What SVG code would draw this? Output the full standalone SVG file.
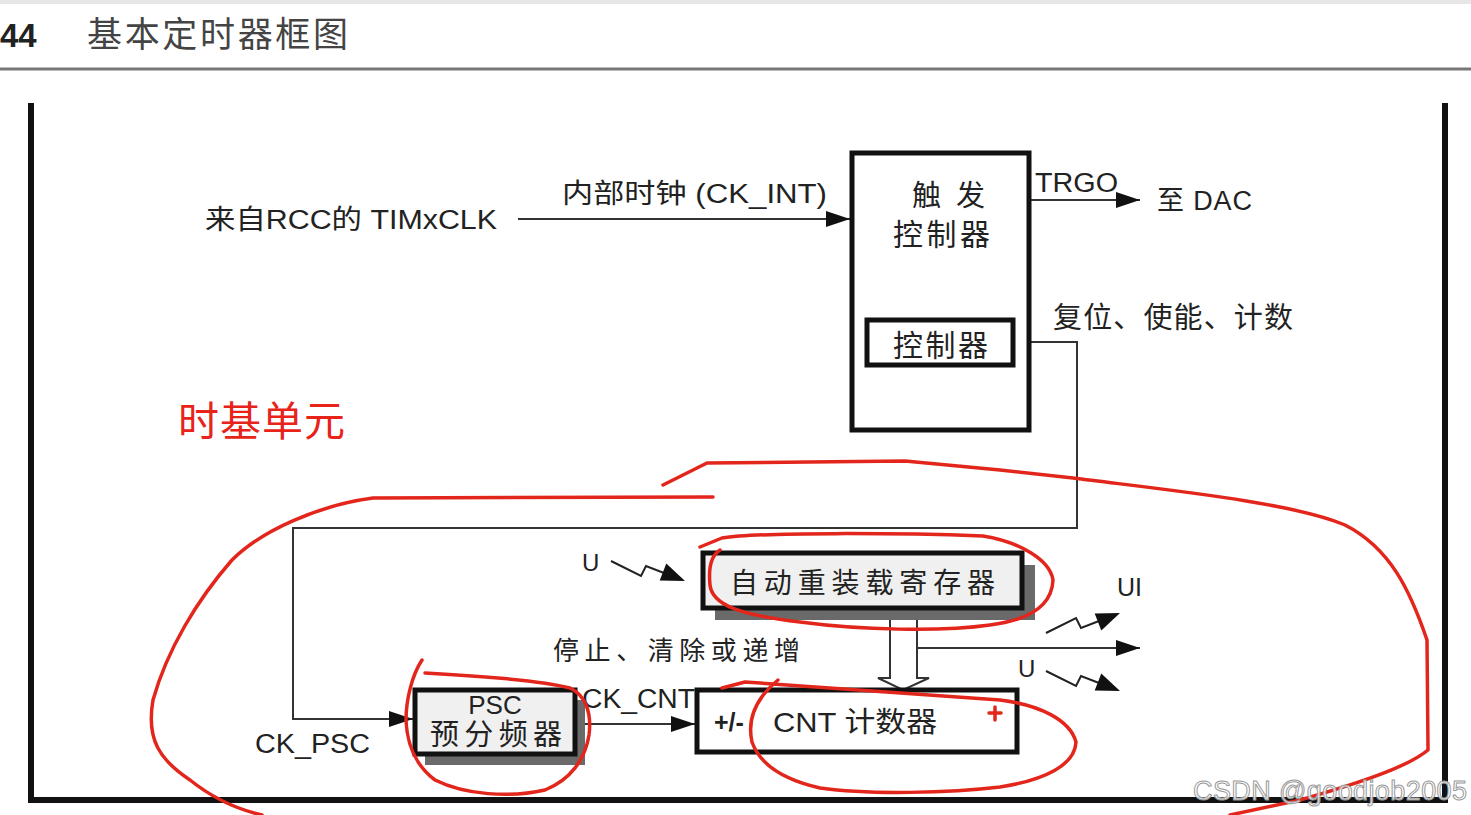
<svg xmlns="http://www.w3.org/2000/svg" xmlns:xlink="http://www.w3.org/1999/xlink" width="1471" height="815" viewBox="0 0 1471 815">
<style>
.t{font-family:"Liberation Sans","Noto Sans CJK SC",sans-serif;fill:#222}
.box{fill:#fff;stroke:#111;stroke-width:5}
.gbox{fill:#f0f0f0;stroke:#111;stroke-width:5}
.shadow{fill:#6a6a6a}
.wire{fill:none;stroke:#333;stroke-width:2}
.red{fill:none;stroke:#e3261c;stroke-width:3.5;stroke-linecap:round;stroke-linejoin:round}
</style>
<defs>
<marker id="ah" markerUnits="userSpaceOnUse" markerWidth="26" markerHeight="18" refX="24" refY="9" orient="auto">
<path d="M0,1 L24,9 L0,17 Z" fill="#111"/>
</marker>
<g id="bolt">
<polyline points="0,0 30,15 35,5 53,12" fill="none" stroke="#222" stroke-width="2"/>
<polygon points="74,20 48.7,19.4 55.3,2.6" fill="#111"/>
</g>
</defs>
<rect x="0" y="0" width="1471" height="815" fill="#fff"/>
<rect x="0" y="0" width="1471" height="4" fill="#e6e6e6"/>
<g id="header">
<text class="t" x="0" y="47" font-size="33" font-weight="bold">44</text>
<text class="t" x="87" y="47" font-size="35" style="fill:#444" textLength="261">基本定时器框图</text>
<line x1="0" y1="69" x2="1471" y2="69" stroke="#777" stroke-width="3"/>
</g>
<g id="frame" fill="none" stroke="#111" stroke-width="6">
<polyline points="31,103 31,800 1445,800 1445,103"/>
</g>
<g id="connectors">
<line class="wire" x1="518" y1="219" x2="850" y2="219" marker-end="url(#ah)"/>
<line class="wire" x1="1030" y1="200" x2="1140" y2="200" marker-end="url(#ah)"/>
<polyline class="wire" points="1013,342 1077,342 1077,528 293,528 293,719 413,719" marker-end="url(#ah)"/>
<line class="wire" x1="575" y1="724" x2="695" y2="724" marker-end="url(#ah)"/>
<path d="M890,610 V678 H878 L903,690 L929,678 H917 V610" fill="#fff" stroke="#333" stroke-width="2"/>
<line class="wire" x1="917" y1="648" x2="1140" y2="648" marker-end="url(#ah)"/>
<use xlink:href="#bolt" href="#bolt" transform="translate(611,561)"/>
<use xlink:href="#bolt" href="#bolt" transform="translate(1046,633) scale(1,-1)"/>
<use xlink:href="#bolt" href="#bolt" transform="translate(1046,671)"/>
</g>
<g id="trigger">
<rect class="box" x="852" y="153" width="177" height="277"/>
<text class="t" x="912" y="206" font-size="29" textLength="73">触 发</text>
<text class="t" x="893" y="245" font-size="30" textLength="97">控制器</text>
</g>
<g id="controller">
<rect class="box" x="867" y="320" width="146" height="45" stroke-width="4"/>
<text class="t" x="893" y="356" font-size="30" textLength="95">控制器</text>
</g>
<g id="arr">
<rect class="shadow" x="715" y="565" width="320" height="55"/>
<rect class="gbox" x="703" y="553" width="319" height="55"/>
<text class="t" x="730" y="593" font-size="28" textLength="265">自动重装载寄存器</text>
</g>
<g id="psc">
<rect class="shadow" x="425" y="700" width="160" height="65"/>
<rect class="gbox" x="415" y="690" width="160" height="64"/>
<text class="t" x="495" y="714" font-size="26" text-anchor="middle">PSC</text>
<text class="t" x="430" y="745" font-size="29" textLength="132">预分频器</text>
</g>
<g id="cnt">
<rect class="box" x="697" y="690" width="320" height="62"/>
<text class="t" x="714" y="731" font-size="25" font-weight="bold">+/-</text>
<text class="t" x="773" y="732" font-size="28" textLength="164" lengthAdjust="spacingAndGlyphs">CNT 计数器</text>
</g>
<g id="labels">
<text class="t" x="205" y="229" font-size="27" textLength="292" lengthAdjust="spacingAndGlyphs">来自RCC的 TIMxCLK</text>
<text class="t" x="562" y="203" font-size="27" textLength="265" lengthAdjust="spacingAndGlyphs">内部时钟 (CK_INT)</text>
<text class="t" x="1035" y="192" font-size="27" textLength="83" lengthAdjust="spacingAndGlyphs">TRGO</text>
<text class="t" x="1157" y="210" font-size="27" textLength="95">至 DAC</text>
<text class="t" x="1053" y="328" font-size="29" textLength="240">复位、使能、计数</text>
<text class="t" x="582" y="571" font-size="24">U</text>
<text class="t" x="1117" y="596" font-size="25">UI</text>
<text class="t" x="553" y="660" font-size="26" textLength="247">停止、清除或递增</text>
<text class="t" x="1018" y="677" font-size="24">U</text>
<text class="t" x="582" y="708" font-size="27" textLength="113" lengthAdjust="spacingAndGlyphs">CK_CNT</text>
<text class="t" x="255" y="753" font-size="27" textLength="115" lengthAdjust="spacingAndGlyphs">CK_PSC</text>
</g>
<g id="annotations">
<text class="t" x="178" y="436" font-size="41" style="fill:#e8231a" textLength="167">时基单元</text>
<path class="red" d="M663,485 L707,463 L905,461 L1000,470 L1073,478 C1167,490 1290,502 1345,525 C1390,548 1410,590 1427,640 L1428,750 C1410,765 1370,780 1300,800 L1230,815"/>
<path class="red" d="M713,497 L373,498 C320,505 262,530 232,560 C197,600 167,650 153,700 C146,740 160,760 190,780 C215,800 240,810 262,815"/>
<path class="red" d="M700,547 L722,538 C760,532 900,533 983,536 C1020,542 1050,560 1053,580 C1052,605 1030,620 990,625 C940,632 860,630 800,622 C740,615 712,605 710,585 C708,565 712,555 720,550"/>
<path class="red" d="M722,688 L745,682 L1000,700 C1040,705 1070,720 1076,742 C1075,765 1045,780 1000,787 C950,793 870,795 820,788 C785,780 760,765 752,742 C746,715 760,695 778,680"/>
<path class="red" d="M995,707 V720 M989,713 H1001" stroke-width="2.5"/>
<path class="red" d="M422,660 C412,675 406,700 406,720 C407,745 415,765 435,780 C465,795 510,798 545,790 C570,780 585,760 589,735 C592,712 585,695 570,688 C540,680 480,676 425,673"/>
</g>
<text x="1193" y="800" font-family="Liberation Sans, sans-serif" font-size="27" fill="#fff" fill-opacity="0.85" stroke="#999" stroke-width="1" textLength="274">CSDN @goodjob2005</text>
</svg>
